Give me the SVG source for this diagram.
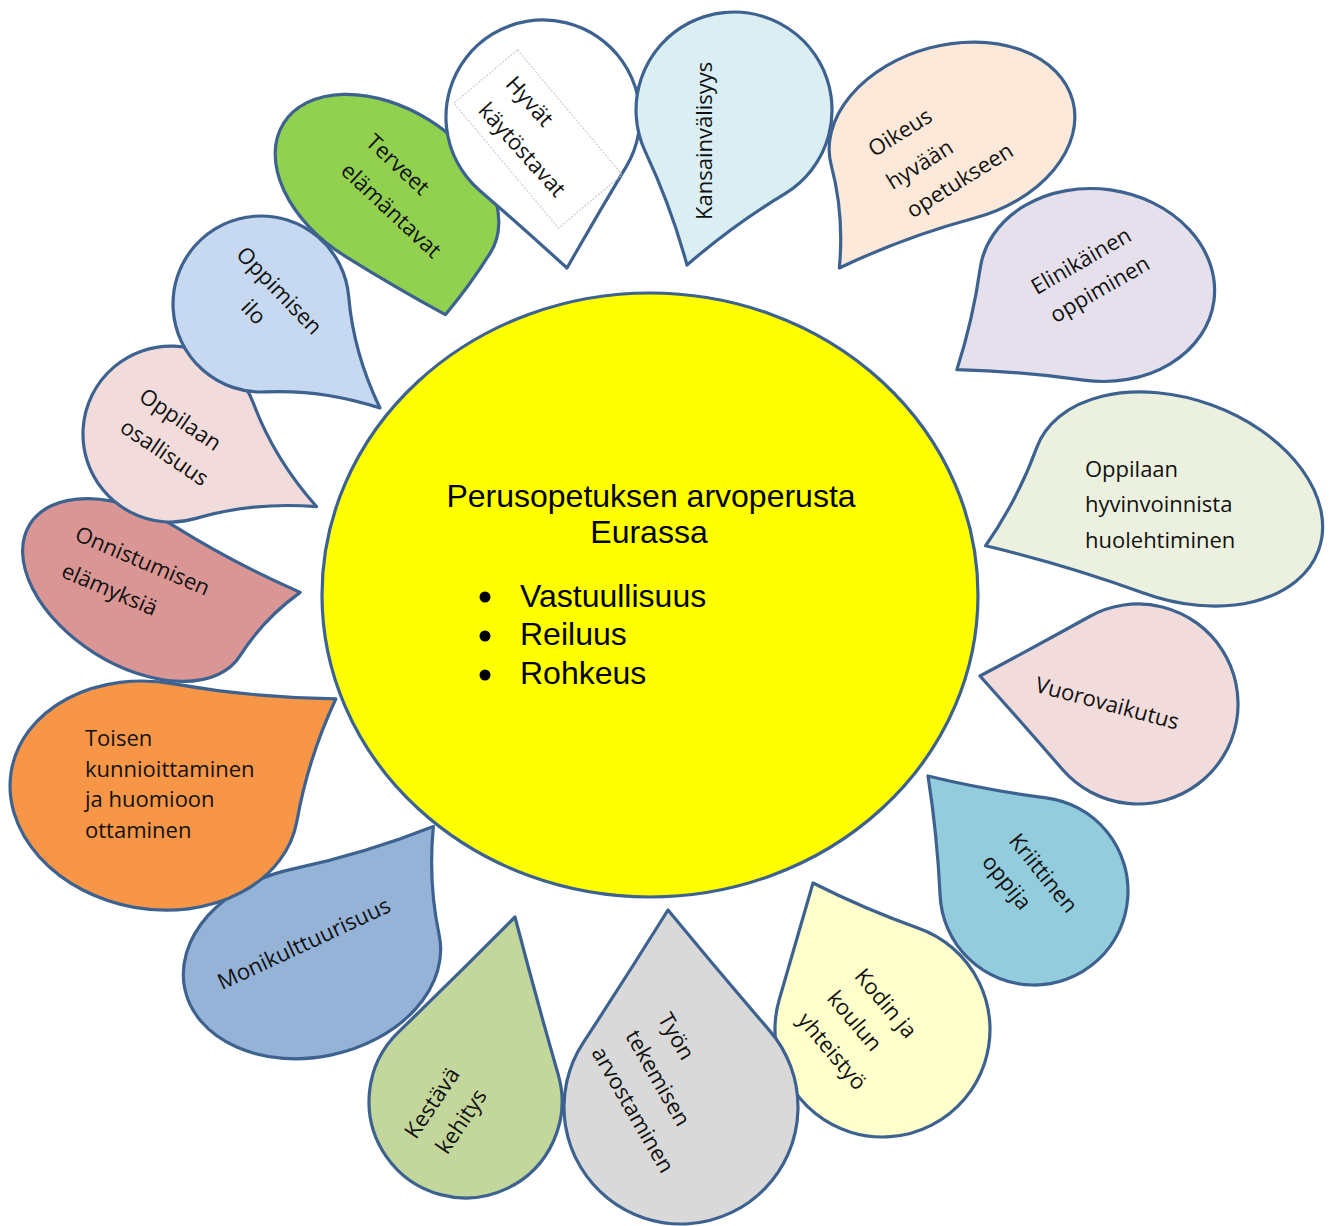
<svg xmlns="http://www.w3.org/2000/svg" width="1332" height="1226" viewBox="0 0 1332 1226">
<style>
.p{stroke:#3D6290;stroke-width:3.2;stroke-linejoin:round}
.t{font-family:"Open Sans","Noto Sans","DejaVu Sans",sans-serif;font-size:22px;fill:#111;text-anchor:middle}
.ts{text-anchor:start}
.c{font-family:"Liberation Sans",Arial,sans-serif;font-size:32px;fill:#000}
</style>
<rect width="1332" height="1226" fill="#fff"/>
<g id="center">
<ellipse class="p" cx="650" cy="595" rx="328" ry="302" fill="#FFFF00"/>
<text class="c" x="651" y="507" text-anchor="middle">Perusopetuksen arvoperusta</text>
<text class="c" x="649" y="543" text-anchor="middle">Eurassa</text>
<circle cx="485" cy="597" r="5.5" fill="#000"/>
<circle cx="485" cy="636" r="5.5" fill="#000"/>
<circle cx="485" cy="675" r="5.5" fill="#000"/>
<text class="c" x="520" y="606.5">Vastuullisuus</text>
<text class="c" x="520" y="645">Reiluus</text>
<text class="c" x="520" y="684">Rohkeus</text>
</g>
<g id="terveet-elamantavat">
<path class="p" fill="#92D050" vector-effect="non-scaling-stroke" transform="translate(387,188) rotate(32) scale(122,-80)" d="M-1,0A1,1 0 0 1 0,-1Q0.478,-1 0.956,-0.956Q1,-0.478 1,0A1,1 0 0 1 0,1A1,1 0 0 1 -1,0Z"/>
<text class="t" transform="translate(392.7,170.1) rotate(43)">Terveet</text>
<text class="t" transform="translate(386,215.9) rotate(43)">elämäntavat</text>
</g>
<g id="hyvat-kaytostavat">
<path class="p" fill="#FFFFFF" d="M567,268Q596,217.1 626.1,166.9A97,97 0 1 0 479.4,190.2Q523.6,228.6 567,268Z"/>
<rect x="-81.5" y="-41.5" width="163" height="83" transform="translate(538,139) rotate(50)" fill="none" stroke="#c4c4c4" stroke-width="1" stroke-dasharray="2,1.5"/>
<text class="t" transform="translate(524,106.4) rotate(48)">Hyvät</text>
<text class="t" transform="translate(516.5,154.7) rotate(48)">käytöstavat</text>
</g>
<g id="kansainvalisyys">
<path class="p" fill="#DAEEF3" d="M687,265Q733.2,225 784.7,193.9A98,98 0 1 0 645.3,151.6Q670.9,206.1 687,265Z"/>
<text class="t" transform="translate(712,140.8) rotate(-90)">Kansainvälisyys</text>
</g>
<g id="oikeus-hyvaan-opetukseen">
<path class="p" fill="#FDE9D9" vector-effect="non-scaling-stroke" transform="translate(952,133) rotate(165) scale(125,88)" d="M-1,0A1,1 0 0 1 0,-1Q0.575,-1 1.15,-1.15Q1,-0.575 1,0A1,1 0 0 1 0,1A1,1 0 0 1 -1,0Z"/>
<text class="t" transform="translate(904.1,138.8) rotate(-32)">Oikeus</text>
<text class="t" transform="translate(923.7,170.9) rotate(-32)">hyvään</text>
<text class="t" transform="translate(963.7,186.7) rotate(-32)">opetukseen</text>
</g>
<g id="elinikainen-oppiminen">
<path class="p" fill="#E5E0EC" vector-effect="non-scaling-stroke" transform="translate(1097,285) rotate(188) scale(118,96)" d="M-1,0A1,1 0 0 1 0,-1Q0.538,-1 1.076,-1.076Q1,-0.538 1,0A1,1 0 0 1 0,1A1,1 0 0 1 -1,0Z"/>
<text class="t" transform="translate(1084.8,267.4) rotate(-30)">Elinikäinen</text>
<text class="t" transform="translate(1103.5,295.7) rotate(-30)">oppiminen</text>
</g>
<g id="oppilaan-hyvinvointi">
<path class="p" fill="#EBF1DE" vector-effect="non-scaling-stroke" transform="translate(1177.6,499) rotate(200) scale(150,100)" d="M-1,0A1,1 0 0 1 0,-1Q0.548,-1 1.096,-1.096Q1,-0.548 1,0A1,1 0 0 1 0,1A1,1 0 0 1 -1,0Z"/>
<text class="t ts" x="1085" y="477">Oppilaan</text>
<text class="t ts" x="1085" y="512">hyvinvoinnista</text>
<text class="t ts" x="1085" y="548">huolehtiminen</text>
</g>
<g id="vuorovaikutus">
<path class="p" fill="#F2DCDB" d="M980,676Q1021.6,722.4 1062.5,769.5A100,100 0 1 0 1089.6,616.5Q1035,646.7 980,676Z"/>
<text class="t" transform="translate(1105.3,710.6) rotate(15)">Vuorovaikutus</text>
</g>
<g id="kriittinen-oppija">
<path class="p" fill="#93CDDD" d="M928,776Q937.3,835.6 940.1,895.4A94,94 0 1 0 1046,797.8Q986.6,790.2 928,776Z"/>
<text class="t" transform="translate(1037.5,877.9) rotate(51)">Kriittinen</text>
<text class="t" transform="translate(1000.9,886.8) rotate(51)">oppija</text>
</g>
<g id="kodin-ja-koulun-yhteistyo">
<path class="p" fill="#FFFFCC" d="M813,883Q796,941.4 779.2,999.7A107.5,107.5 0 1 0 918.5,928.2Q864.5,909 813,883Z"/>
<text class="t" transform="translate(880,1008.3) rotate(50)">Kodin ja</text>
<text class="t" transform="translate(848.8,1025.8) rotate(50)">koulun</text>
<text class="t" transform="translate(826.3,1056.1) rotate(50)">yhteistyö</text>
</g>
<g id="tyon-tekemisen-arvostaminen">
<path class="p" fill="#D9D9D9" d="M668,910Q626.3,976.9 583.1,1042.9A117,117 0 1 0 769.6,1030.6Q718.1,970.9 668,910Z"/>
<text class="t" transform="translate(669.7,1040.2) rotate(60)">Työn</text>
<text class="t" transform="translate(651.4,1081.8) rotate(60)">tekemisen</text>
<text class="t" transform="translate(626.4,1113.5) rotate(60)">arvostaminen</text>
</g>
<g id="monikulttuurisuus">
<path class="p" fill="#95B3D7" vector-effect="non-scaling-stroke" transform="translate(312,962) rotate(-12) scale(130,95)" d="M-1,0A1,1 0 0 1 0,-1Q0.565,-1 1.13,-1.13Q1,-0.565 1,0A1,1 0 0 1 0,1A1,1 0 0 1 -1,0Z"/>
<text class="t" transform="translate(307.2,950.5) rotate(-25)">Monikulttuurisuus</text>
</g>
<g id="kestava-kehitys">
<path class="p" fill="#C3D69B" d="M515,917Q457.3,975.2 398.4,1032.1A96.5,96.5 0 1 0 558.3,1074.9Q535.7,996.2 515,917Z"/>
<text class="t" transform="translate(438.3,1107.2) rotate(-56)">Kestävä</text>
<text class="t" transform="translate(467.5,1125.6) rotate(-56)">kehitys</text>
</g>
<g id="toisen-kunnioittaminen">
<path class="p" fill="#F79646" vector-effect="non-scaling-stroke" transform="translate(154.2,795.6) rotate(10) scale(145,113.5)" d="M-1,0A1,1 0 0 1 0,-1Q0.559,-1 1.118,-1.118Q1,-0.559 1,0A1,1 0 0 1 0,1A1,1 0 0 1 -1,0Z"/>
<text class="t ts" x="85" y="746">Toisen</text>
<text class="t ts" x="85" y="776.7">kunnioittaminen</text>
<text class="t ts" x="85" y="807.3">ja huomioon</text>
<text class="t ts" x="85" y="838.3">ottaminen</text>
</g>
<g id="onnistumisen-elamyksia">
<path class="p" fill="#D99694" vector-effect="non-scaling-stroke" transform="translate(135,590) rotate(32) scale(124,75)" d="M-1,0A1,1 0 0 1 0,-1Q0.57,-1 1.14,-1.14Q1,-0.57 1,0A1,1 0 0 1 0,1A1,1 0 0 1 -1,0Z"/>
<text class="t" transform="translate(139.6,567.9) rotate(23)">Onnistumisen</text>
<text class="t" transform="translate(106.6,596.4) rotate(23)">elämyksiä</text>
</g>
<g id="oppilaan-osallisuus">
<path class="p" fill="#F2DCDB" d="M316.7,506.7Q274.2,459 253.4,403.2A88,88 0 1 0 196,518.4Q253.1,501.5 316.7,506.7Z"/>
<text class="t" transform="translate(176.1,425.8) rotate(34)">Oppilaan</text>
<text class="t" transform="translate(160.3,458.8) rotate(34)">osallisuus</text>
</g>
<g id="oppimisen-ilo">
<path class="p" fill="#C6D9F1" d="M380,408Q353.5,353.2 348.7,296.6A88,88 0 1 0 265.3,391.9Q322,389.1 380,408Z"/>
<text class="t" transform="translate(273.9,295.8) rotate(46)">Oppimisen</text>
<text class="t" transform="translate(248.2,317.3) rotate(46)">ilo</text>
</g>
</svg>
